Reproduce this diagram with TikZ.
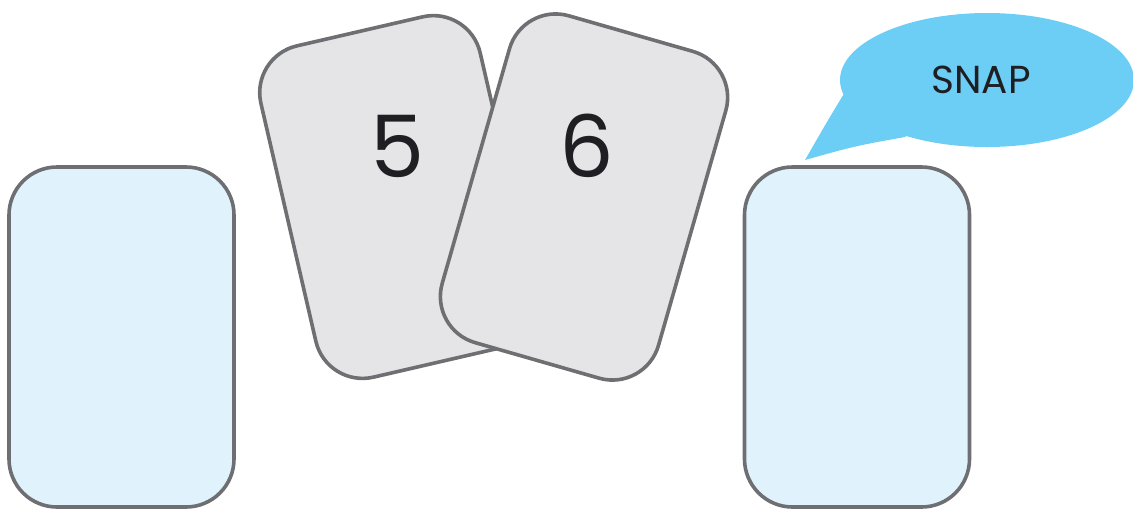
\documentclass[tikz,border=0pt]{standalone}
\usepackage{fontspec}
\setmainfont{Poppins}
\usetikzlibrary{shapes.geometric}
\definecolor{cardline}{RGB}{110,111,114}
\definecolor{bluecard}{RGB}{224,243,253}
\definecolor{greycard}{RGB}{229,229,232}
\definecolor{bubble}{RGB}{108,206,245}
\definecolor{ink}{RGB}{30,30,35}
\tikzset{
  card/.style={rectangle, rounded corners=24pt, draw=cardline, line width=1.8pt,
    minimum width=112.5pt, minimum height=170pt, inner sep=0pt},
  bluec/.style={card, fill=bluecard},
  greyc/.style={card, fill=greycard},
  digit/.style={anchor=base, text=ink, font=\fontsize{43}{43}\selectfont, inner sep=0pt},
  snaptext/.style={anchor=base, text=ink, font=\fontsize{19.5}{19.5}\selectfont, inner sep=0pt}
}
\begin{document}
\begin{tikzpicture}[x=0.5pt,y=-0.5pt]
\useasboundingbox (0,0) rectangle (1133,509);
% bubble
\node[ellipse, fill=bubble, minimum width=147pt, minimum height=67pt, inner sep=0pt] (bub) at (987,80) {};
\coordinate (t1) at (845,92);
\coordinate (tip) at (805,160);
\coordinate (t2) at (905,137);
\fill[bubble] (t1) .. controls (828,120) .. (tip) .. controls (855,146) .. (t2) -- (bub.center) -- cycle;
\node[snaptext] (snap) at (981,93) {SNAP};
% side cards
\node[bluec] (left) at (121.5,337) {};
\node[bluec] (right) at (857,337) {};
% middle cards
\node[greyc, rotate=13] (c5) at (398,197) {};
\node[greyc, rotate=-16] (c6) at (584,197) {};
\node[digit] (n5) at (397.5,177) {5};
\node[digit] (n6) at (587,177) {6};
\end{tikzpicture}
\end{document}
